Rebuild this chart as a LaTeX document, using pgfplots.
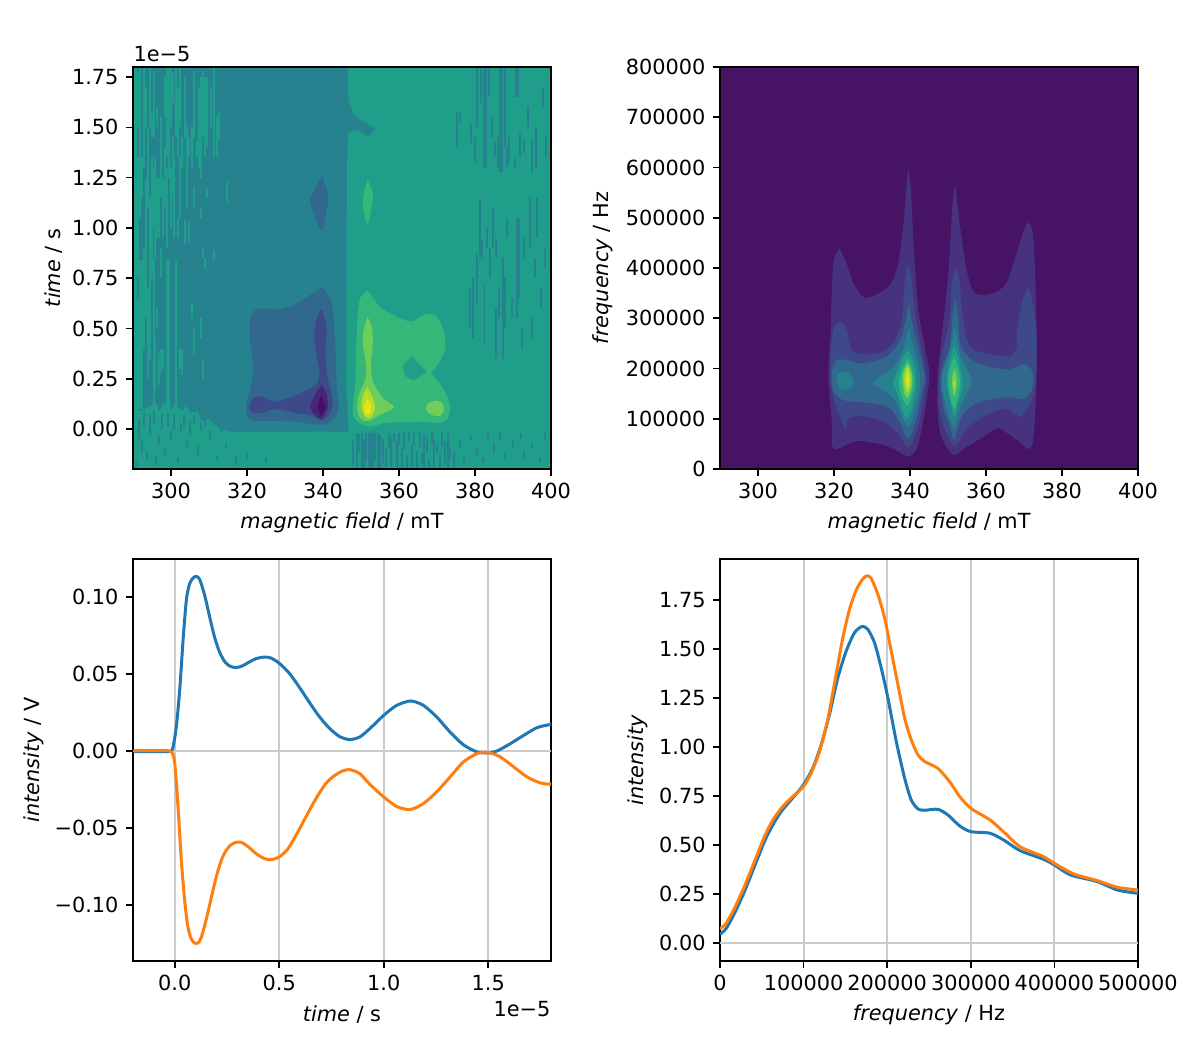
\documentclass[border=0pt]{standalone}
\usepackage{fontspec}
\setmainfont{DejaVu Sans}
\usepackage{pgfplots}
\usepackage{pgfplotstable}
\pgfplotsset{compat=1.18}

% viridis steps of the two contour plots
\definecolor{lv0}{HTML}{440F66}
\definecolor{lv1}{HTML}{482576}
\definecolor{lvA}{HTML}{471365}
\definecolor{lvB}{HTML}{46327E}
\definecolor{lv2}{HTML}{3E4989}
\definecolor{lv3}{HTML}{31688E}
\definecolor{lv4}{HTML}{26828E}
\definecolor{lv5}{HTML}{1F9E89}
\definecolor{lv6}{HTML}{35B779}
\definecolor{lv7}{HTML}{6ECE58}
\definecolor{lv8}{HTML}{B5DE2B}
\definecolor{lv9}{HTML}{E5E419}
\definecolor{mplblue}{HTML}{1F77B4}
\definecolor{mplorange}{HTML}{FF7F0E}
\definecolor{gridgray}{HTML}{CBCBCB}

\newcommand{\tenbp}{\fontsize{7.5bp}{9bp}\selectfont}

\pgfplotsset{
  base/.style={
    scale only axis, width=2.09in, height=2.01in,
    axis line style={black,line width=0.58bp},
    tick align=outside, xtick pos=bottom, ytick pos=left,
    major tick length=2.52bp,
    every tick/.style={black,line width=0.58bp},
    tick label style={font=\tenbp,inner sep=0pt},
    xticklabel style={yshift=-2.5bp},
    yticklabel style={xshift=-2.5bp},
    scaled ticks=false,
    no markers,
    every axis x label/.style={at={(axis description cs:0.5,-0.134)},anchor=center,font=\tenbp},
  },
  ylab/.style={every axis y label/.style={at={(axis description cs:#1,0.5)},rotate=90,anchor=center,font=\tenbp}},
  fieldticks/.style={
    xmin=290, xmax=400,
    xtick={300,320,340,360,380,400},
    xticklabels={300,320,340,360,380,400},
    xlabel={\textit{magnetic field} / mT},
  },
  lev/.style={fill=#1, draw=none, smooth, tension=0.5, forget plot},
  curve/.style={#1, line width=1.08bp, smooth, tension=0.42},
  zero/.style={gridgray, line width=0.72bp, forget plot},
  strip/.style={draw=none, mark=none, forget plot,
    error bars/.cd, y dir=plus, y explicit, error mark=none,
    error bar style={draw=#1, line width=0.72pt}},
}

% noisy pixels of the first plot: field, lower time, length
\pgfplotstableread{
x lo len
290.4 0.09 1.71
290.9 0.09 1.71
291.4 0.10 0.55
291.4 0.75 0.60
291.4 1.50 0.28
291.9 0.10 0.74
291.9 1.05 0.75
292.4 0.10 0.74
292.4 1.15 0.20
292.9 0.40 0.50
292.9 1.30 0.50
293.4 0.55 0.70
293.4 1.50 0.20
293.9 0.25 0.45
293.9 1.10 0.40
294.4 0.35 0.80
294.4 1.50 0.30
294.9 0.75 0.60
294.9 1.45 0.12
295.4 0.10 0.74
295.4 1.00 0.30
295.4 1.45 0.33
295.9 0.20 0.25
295.9 0.85 0.50
296.4 0.50 0.10
296.4 0.95 0.30
296.4 1.50 0.10
296.9 0.95 0.30
296.9 0.22 0.16
297.4 0.75 0.15
297.4 1.15 0.40
297.4 0.28 0.12
298.0 0.30 0.10
298.0 0.95 0.30
298.4 1.10 0.30
298.4 1.55 0.20
298.9 0.10 0.74
298.9 0.90 0.40
298.9 1.35 0.45
299.4 0.10 0.74
299.4 1.25 0.55
300.0 1.00 0.30
300.0 1.50 0.30
300.5 1.15 0.30
300.5 1.62 0.15
300.9 0.95 0.40
301.2 0.10 0.74
301.2 1.45 0.35
301.8 0.95 0.10
301.8 1.35 0.35
302.4 0.30 0.10
302.4 1.05 0.30
302.4 1.50 0.30
303.0 0.27 0.13
303.0 1.30 0.15
303.6 0.92 0.12
303.6 1.45 0.30
304.2 1.10 0.40
304.8 0.93 0.10
304.8 1.35 0.10
305.4 0.55 0.07
305.4 1.30 0.20
306.1 0.37 0.13
306.1 1.10 0.10
306.1 1.45 0.33
306.8 1.35 0.08
307.3 1.30 0.40
307.8 0.45 0.10
307.8 1.05 0.05
307.8 1.25 0.50
308.4 0.25 0.10
308.4 0.85 0.05
308.4 1.45 0.33
309.0 1.35 0.40
309.0 0.80 0.05
309.6 1.15 0.05
309.6 1.40 0.35
310.5 1.50 0.20
311.2 0.84 0.05
311.2 1.35 0.45
312.1 1.35 0.20
312.7 1.43 0.15
314.7 1.13 0.10
}\lightstrips

\pgfplotstableread{
x lo len
290.8 -0.19 0.03
291.5 -0.05 0.10
292.3 -0.12 0.06
293.0 0.01 0.07
293.8 -0.15 0.04
294.5 -0.03 0.10
295.5 0.02 0.07
296.0 -0.18 0.05
296.8 -0.08 0.05
297.6 0.00 0.08
298.4 -0.14 0.04
299.2 0.01 0.07
300.0 -0.06 0.05
300.9 0.00 0.07
301.8 -0.17 0.03
302.6 -0.02 0.05
303.3 0.01 0.06
304.1 -0.10 0.04
305.0 -0.03 0.07
306.0 0.02 0.05
307.0 -0.13 0.05
307.8 -0.01 0.04
309.0 0.01 0.04
310.3 -0.05 0.04
312.0 -0.16 0.03
313.2 -0.02 0.04
314.5 -0.10 0.03
317.0 -0.18 0.04
320.0 -0.15 0.03
325.0 -0.17 0.03
348.0 -0.18 0.12
349.0 -0.20 0.18
349.6 -0.12 0.10
350.2 -0.20 0.18
350.8 -0.20 0.15
351.4 -0.16 0.14
352.0 -0.20 0.18
352.6 -0.20 0.19
353.2 -0.20 0.18
353.8 -0.16 0.15
354.4 -0.20 0.18
355.0 -0.20 0.17
355.8 -0.17 0.12
356.6 -0.19 0.10
357.3 -0.10 0.08
358.0 -0.19 0.15
358.7 -0.07 0.05
359.4 -0.20 0.14
360.0 -0.08 0.06
360.7 -0.19 0.10
361.4 -0.10 0.09
362.0 -0.20 0.07
362.7 -0.06 0.05
363.4 -0.19 0.11
364.0 -0.08 0.06
364.7 -0.20 0.09
365.4 -0.09 0.08
366.0 -0.17 0.05
366.7 -0.20 0.17
367.4 -0.12 0.08
368.0 -0.20 0.05
368.6 -0.08 0.07
369.3 -0.19 0.14
370.0 -0.12 0.05
370.7 -0.20 0.07
371.4 -0.09 0.08
372.0 -0.18 0.12
372.8 -0.20 0.18
373.5 -0.15 0.06
374.4 -0.19 0.08
376.0 -0.10 0.04
377.0 -0.18 0.04
379.0 -0.06 0.03
380.5 -0.14 0.04
382.0 -0.17 0.03
383.5 -0.05 0.04
385.0 -0.12 0.05
386.5 -0.06 0.04
388.0 -0.15 0.03
390.0 -0.09 0.04
392.0 -0.05 0.03
393.0 -0.15 0.04
395.0 -0.10 0.03
397.0 -0.17 0.03
398.5 -0.06 0.04
375.2 1.40 0.18
376.0 1.52 0.05
379.0 1.42 0.10
380.0 1.33 0.12
380.4 1.50 0.30
381.5 1.62 0.18
382.4 1.30 0.50
383.0 1.30 0.50
383.6 1.65 0.15
384.5 1.45 0.10
385.2 1.35 0.08
386.0 1.30 0.15
386.6 1.28 0.52
387.2 1.28 0.52
387.8 1.40 0.40
388.4 1.30 0.10
389.0 1.33 0.12
390.6 1.30 0.05
390.8 1.65 0.15
391.4 1.65 0.15
391.8 1.35 0.12
393.0 1.37 0.06
394.0 1.50 0.10
395.0 1.28 0.15
396.0 1.30 0.20
397.8 1.60 0.10
398.8 1.35 0.10
378.7 0.50 0.20
379.6 0.45 0.30
380.5 0.62 0.25
381.2 0.85 0.30
381.8 0.84 0.10
382.5 0.42 0.30
383.2 0.90 0.10
384.0 0.75 0.15
384.8 0.90 0.20
385.4 0.35 0.25
385.4 0.85 0.10
386.2 0.55 0.15
387.4 0.35 0.50
388.0 0.50 0.25
388.4 0.95 0.10
389.8 0.55 0.10
391.0 0.55 0.50
391.5 0.65 0.40
392.3 0.40 0.10
393.0 0.85 0.10
394.4 0.90 0.25
395.0 0.45 0.10
395.8 0.75 0.10
396.2 0.95 0.20
397.3 0.60 0.10
398.5 0.80 0.10
}\darkstrips

\begin{document}
\begin{tikzpicture}
\path[use as bounding box] (0,0) rectangle (6in,5.25in);

% ---- time / field map
\begin{axis}[base, name=tl, at={(0.665in,2.905in)}, anchor=south west,
    fieldticks, ylab=-0.189,
    ymin=-0.199, ymax=1.80,
    ytick={0,0.25,0.5,0.75,1,1.25,1.5,1.75},
    yticklabels={0.00,0.25,0.50,0.75,1.00,1.25,1.50,1.75},
    ylabel={\textit{time} / s},
    axis background/.style={fill=lv5}, axis on top]
\addplot[fill=lv4,draw=none,forget plot] coordinates {(346.4,1.80)(346.7,1.635)(348.0,1.569)(349.8,1.536)(353.7,1.495)(352.0,1.450)(349.3,1.486)(346.7,1.478)(346.3,1.337)(346.1,0.227)(346.7,-0.013)(315.6,-0.013)(313,0.0)(311,0.03)(310,0.05)(308,0.04)(307,0.09)(305,0.08)(304,0.12)(303,0.09)(301,0.12)(300,0.10)(298,0.13)(297,0.09)(296,0.13)(294,0.11)(292,0.09)(290,0.10)(290,1.80)};
\addplot[strip=lv5] table[x=x,y=lo,y error=len] {\lightstrips};
\addplot[strip=lv4] table[x=x,y=lo,y error=len] {\darkstrips};
\addplot[lev=lv3] coordinates {(339.7,1.258)(337.9,1.196)(336.6,1.138)(337.9,1.056)(339.7,0.986)(340.8,1.072)(341.4,1.155)(340.6,1.221)(339.7,1.258)};
\addplot[lev=lv3] coordinates {(339.7,0.704)(336.6,0.666)(332.2,0.616)(327.9,0.595)(324.4,0.600)(322.2,0.592)(321.0,0.558)(320.7,0.459)(321.3,0.360)(321.7,0.293)(321.0,0.210)(319.8,0.119)(320.0,0.070)(321.3,0.041)(326.1,0.041)(333.1,0.036)(339.3,0.020)(342.8,0.045)(344.1,0.111)(343.6,0.227)(343.2,0.426)(342.3,0.625)(339.7,0.704)};
\addplot[lev=lv2] coordinates {(339.5,0.595)(338.2,0.542)(337.7,0.459)(338.4,0.360)(339.0,0.293)(338.4,0.227)(333.1,0.169)(327.4,0.136)(325.2,0.152)(323.0,0.164)(321.3,0.144)(320.7,0.103)(321.7,0.078)(324.4,0.081)(327.4,0.098)(333.1,0.078)(337.1,0.065)(339.7,0.045)(341.9,0.078)(342.5,0.144)(341.0,0.277)(340.6,0.393)(341.0,0.492)(340.1,0.575)(339.5,0.595)};
\addplot[lev=lv1] coordinates {(339.7,0.219)(337.9,0.169)(336.6,0.111)(337.9,0.070)(339.7,0.048)(341.2,0.103)(341.0,0.169)(339.7,0.219)};
\addplot[lev=lv0] coordinates {(339.6,0.166)(338.6,0.114)(339.6,0.065)(340.6,0.111)(339.6,0.166)};
\addplot[lev=lv6] coordinates {(351.7,1.241)(350.7,1.171)(350.5,1.105)(351.7,1.019)(352.8,1.105)(353.1,1.171)(351.7,1.241)};
\addplot[lev=lv6] coordinates {(351.7,0.688)(349.8,0.650)(349.1,0.558)(348.7,0.393)(348.5,0.227)(347.8,0.094)(348.5,0.045)(352.0,0.012)(356.8,0.031)(365.6,0.036)(370.8,0.031)(373.0,0.061)(373.3,0.128)(371.3,0.210)(368.6,0.277)(369.5,0.302)(372.1,0.393)(371.7,0.492)(369.5,0.567)(366.4,0.567)(363.4,0.534)(359.4,0.558)(355.0,0.608)(353.3,0.650)(351.7,0.688)};
\addplot[lev=lv5] coordinates {(363.4,0.360)(361.2,0.318)(361.6,0.268)(363.8,0.244)(366.0,0.268)(367.3,0.285)(366.0,0.310)(364.7,0.335)(363.4,0.360)};
\addplot[lev=lv7] coordinates {(351.7,0.558)(350.7,0.492)(350.5,0.426)(351.4,0.310)(351.1,0.244)(349.3,0.161)(349.1,0.086)(350.2,0.048)(352.0,0.040)(355.0,0.070)(358.7,0.108)(355.9,0.152)(353.3,0.227)(352.6,0.310)(353.1,0.426)(352.8,0.509)(351.7,0.558)};
\addplot[lev=lv7] coordinates {(369.5,0.141)(367.7,0.128)(367.1,0.098)(368.6,0.070)(370.8,0.066)(371.9,0.098)(371.3,0.131)(369.5,0.141)};
\addplot[lev=lv8] coordinates {(351.5,0.207)(350.5,0.161)(350.2,0.103)(351.1,0.061)(352.4,0.053)(353.7,0.103)(352.8,0.169)(351.5,0.207)};
\addplot[lev=lv9] coordinates {(351.7,0.152)(350.8,0.111)(351.3,0.070)(352.4,0.078)(352.7,0.119)(351.7,0.152)};
\end{axis}
\node[anchor=south west,font=\tenbp,inner sep=0pt] at ([yshift=1.8bp]tl.north west) {1e−5};

% ---- frequency / field map
\begin{axis}[base, at={(3.6in,2.905in)}, anchor=south west,
    fieldticks, ylab=-0.28,
    ymin=0, ymax=800000,
    ytick={0,100000,200000,300000,400000,500000,600000,700000,800000},
    yticklabels={0,100000,200000,300000,400000,500000,600000,700000,800000},
    ylabel={\textit{frequency} / Hz},
    axis background/.style={fill=lvA}, axis on top]
\addplot[lev=lvB] coordinates {(321.4,439000)(320.0,416000)(319.4,350000)(319.1,270000)(318.5,184000)(319.4,98000)(319.8,41000)(324.2,51000)(326.8,56000)(333.0,48000)(336.9,35000)(339.6,25000)(341.8,41000)(343.5,98000)(345.1,184000)(343.9,243000)(342.2,316000)(340.9,449000)(340.3,549000)(339.6,595000)(338.9,549000)(338.2,482000)(336.9,409000)(334.7,366000)(330.8,346000)(327.7,342000)(325.1,370000)(323.3,409000)(321.4,439000)};
\addplot[lev=lvB] coordinates {(351.9,568000)(351.2,529000)(350.5,436000)(349.6,350000)(347.5,204000)(347.2,117000)(348.3,64000)(351.4,28000)(354.9,44000)(359.3,64000)(363.2,81000)(368.1,58000)(372.0,44000)(373.2,151000)(373.3,283000)(372.5,456000)(371.1,490000)(369.4,462000)(367.2,409000)(365.4,370000)(362.8,353000)(359.3,346000)(356.7,353000)(354.9,396000)(353.2,482000)(351.9,568000)};
\addplot[lev=lv2] coordinates {(321.6,295000)(319.8,277000)(319.1,224000)(319.0,177000)(320.3,131000)(322.9,81000)(323.8,101000)(327.7,105000)(333.0,94000)(336.9,71000)(339.6,43000)(341.6,71000)(343.1,117000)(344.2,177000)(343.1,237000)(341.6,297000)(340.4,376000)(339.6,404000)(338.7,376000)(337.8,297000)(336.1,257000)(333.0,234000)(327.7,228000)(324.6,237000)(323.3,277000)(321.6,295000)};
\addplot[lev=lv2] coordinates {(351.9,399000)(351.0,370000)(350.4,297000)(348.3,224000)(347.5,164000)(348.3,98000)(351.6,46000)(354.9,78000)(359.3,104000)(365.4,121000)(369.0,104000)(372.0,137000)(373.2,184000)(373.2,283000)(372.0,343000)(371.0,360000)(369.4,330000)(368.1,270000)(368.1,243000)(366.3,224000)(360.2,230000)(355.8,243000)(354.0,297000)(353.0,376000)(351.9,399000)};
\addplot[lev=lv3] coordinates {(339.6,333000)(338.9,297000)(337.4,257000)(333.9,224000)(327.7,210000)(322.5,218000)(320.3,214000)(319.4,190000)(319.8,157000)(322.5,137000)(329.5,131000)(334.7,121000)(337.4,91000)(339.6,59000)(341.8,104000)(343.1,151000)(343.9,184000)(342.2,243000)(340.4,297000)(339.6,333000)};
\addplot[lev=lv3] coordinates {(351.9,343000)(351.2,303000)(350.5,243000)(349.2,217000)(348.1,177000)(348.8,124000)(350.5,84000)(351.6,59000)(353.6,104000)(357.5,131000)(365.4,143000)(369.8,139000)(372.0,157000)(372.3,190000)(370.3,209000)(365.4,198000)(358.4,209000)(354.9,227000)(353.2,250000)(352.7,297000)(351.9,343000)};
\addplot[lev=lv4] coordinates {(320.7,190000)(321.0,170000)(322.0,157000)(324.6,164000)(325.3,177000)(323.3,194000)(320.7,190000)};
\addplot[lev=lv4] coordinates {(339.6,280000)(338.4,243000)(336.5,210000)(333.4,190000)(330.4,172000)(333.4,154000)(336.1,137000)(337.4,111000)(339.6,84000)(341.3,117000)(342.5,157000)(342.6,190000)(341.6,224000)(340.4,257000)(339.6,280000)};
\addplot[lev=lv4] coordinates {(351.8,287000)(351.0,253000)(349.8,220000)(348.6,194000)(348.3,171000)(349.2,134000)(350.5,101000)(351.7,84000)(353.2,121000)(354.9,151000)(356.2,174000)(354.9,200000)(353.2,227000)(352.5,257000)(351.8,287000)};
\addplot[lev=lv5] coordinates {(339.4,237000)(337.6,214000)(336.1,184000)(335.6,171000)(336.9,144000)(338.2,111000)(339.4,101000)(340.9,131000)(341.7,171000)(341.3,207000)(340.0,230000)(339.4,237000)};
\addplot[lev=lv5] coordinates {(351.7,247000)(350.5,220000)(349.8,190000)(349.6,171000)(350.5,137000)(351.7,104000)(352.7,131000)(353.9,164000)(353.6,190000)(352.7,224000)(351.7,247000)};
\addplot[lev=lv6] coordinates {(339.4,220000)(337.8,197000)(337.1,171000)(337.8,144000)(339.4,127000)(340.6,151000)(341.1,177000)(340.4,204000)(339.4,220000)};
\addplot[lev=lv6] coordinates {(351.7,224000)(350.5,200000)(350.1,174000)(350.5,144000)(351.7,121000)(352.7,144000)(353.2,174000)(352.7,200000)(351.7,224000)};
\addplot[lev=lv7] coordinates {(339.4,210000)(338.2,194000)(338.0,174000)(338.5,151000)(339.4,141000)(340.4,161000)(340.6,180000)(340.1,200000)(339.4,210000)};
\addplot[lev=lv7] coordinates {(351.7,200000)(351.1,184000)(351.0,171000)(351.6,145000)(352.3,164000)(352.3,184000)(351.7,200000)};
\addplot[lev=lv8] coordinates {(339.4,205000)(338.7,190000)(338.5,174000)(339.4,151000)(340.1,171000)(340.1,187000)(339.4,205000)};
\addplot[lev=lv8] coordinates {(351.7,177000)(351.3,171000)(351.7,161000)(352.0,169000)(351.7,177000)};
\addplot[lev=lv9] coordinates {(339.4,190000)(339.0,177000)(339.4,164000)(339.8,177000)(339.4,190000)};
\end{axis}

% ---- time traces
\begin{axis}[base, name=bl, at={(0.665in,0.445in)}, anchor=south west,
    ylab=-0.237,
    xmin=-0.2, xmax=1.8, ymin=-0.1364, ymax=0.1247,
    xtick={0,0.5,1,1.5}, xticklabels={0.0,0.5,1.0,1.5},
    ytick={-0.1,-0.05,0,0.05,0.1},
    yticklabels={−0.10,−0.05,0.00,0.05,0.10},
    xmajorgrids, grid style={gridgray,line width=0.72bp},
    xlabel={\textit{time} / s}, ylabel={\textit{intensity} / V}]
\addplot[zero] coordinates {(-0.2,0)(1.8,0)};
\addplot[curve=mplblue] coordinates {(-0.198,-0.0004)(-0.056,-0.0004)(-0.021,-0.0002)(-0.008,0.0026)(0.008,0.0167)(0.024,0.0405)(0.040,0.0729)(0.056,0.0989)(0.071,0.1087)(0.087,0.1123)(0.103,0.1134)(0.119,0.1115)(0.143,0.1011)(0.167,0.0870)(0.190,0.0741)(0.214,0.0643)(0.238,0.0582)(0.262,0.0552)(0.294,0.0541)(0.325,0.0554)(0.357,0.0578)(0.389,0.0600)(0.429,0.0610)(0.460,0.0604)(0.500,0.0570)(0.548,0.0505)(0.595,0.0416)(0.643,0.0318)(0.690,0.0226)(0.738,0.0150)(0.788,0.0094)(0.837,0.0074)(0.885,0.0091)(0.933,0.0145)(1.0,0.0232)(1.061,0.0296)(1.128,0.0325)(1.189,0.0297)(1.253,0.0221)(1.317,0.0123)(1.381,0.0040)(1.446,-0.0006)(1.5,-0.0013)(1.542,0)(1.606,0.0048)(1.670,0.0102)(1.734,0.0152)(1.8,0.0173)};
\addplot[curve=mplorange] coordinates {(-0.198,0.0002)(-0.056,0.0002)(-0.016,-0.0006)(0,-0.0082)(0.016,-0.0376)(0.032,-0.0723)(0.048,-0.0983)(0.063,-0.1145)(0.079,-0.1221)(0.095,-0.1247)(0.111,-0.1247)(0.127,-0.1210)(0.151,-0.1091)(0.175,-0.0950)(0.198,-0.0820)(0.222,-0.0711)(0.246,-0.0645)(0.270,-0.0608)(0.294,-0.0593)(0.317,-0.0593)(0.349,-0.0619)(0.389,-0.0667)(0.429,-0.0699)(0.460,-0.0706)(0.500,-0.0688)(0.540,-0.0638)(0.579,-0.0550)(0.627,-0.0429)(0.675,-0.0310)(0.722,-0.0212)(0.762,-0.0162)(0.802,-0.0130)(0.837,-0.0121)(0.885,-0.0147)(0.933,-0.0216)(1.0,-0.0299)(1.061,-0.0360)(1.125,-0.0381)(1.189,-0.0342)(1.253,-0.0266)(1.317,-0.0169)(1.381,-0.0071)(1.446,-0.0017)(1.5,-0.0009)(1.558,-0.0039)(1.622,-0.0104)(1.686,-0.0169)(1.75,-0.0208)(1.8,-0.0216)};
\end{axis}
\node[anchor=north east,font=\tenbp,inner sep=0pt] at ([yshift=-14.4bp]bl.south east) {1e−5};

% ---- spectra
\begin{axis}[base, at={(3.6in,0.445in)}, anchor=south west,
    ylab=-0.196,
    xmin=0, xmax=500000, ymin=-0.092, ymax=1.959,
    xtick={0,100000,200000,300000,400000,500000},
    xticklabels={0,100000,200000,300000,400000,500000},
    ytick={0,0.25,0.5,0.75,1,1.25,1.5,1.75},
    yticklabels={0.00,0.25,0.50,0.75,1.00,1.25,1.50,1.75},
    xmajorgrids, grid style={gridgray,line width=0.72bp},
    xlabel={\textit{frequency} / Hz}, ylabel={\textit{intensity}}]
\addplot[zero] coordinates {(0,0)(500000,0)};
\addplot[curve=mplblue] coordinates {(0,0.044)(7200,0.073)(17200,0.150)(29100,0.261)(41100,0.389)(53100,0.517)(63100,0.602)(73100,0.670)(85000,0.730)(99800,0.807)(111000,0.892)(121000,1.011)(130900,1.165)(140900,1.352)(150900,1.489)(160900,1.583)(170000,1.615)(176800,1.600)(184800,1.532)(192800,1.404)(200800,1.251)(210800,1.029)(220800,0.841)(228700,0.730)(236700,0.684)(244700,0.677)(260600,0.682)(272700,0.653)(286700,0.597)(300000,0.568)(322900,0.560)(339000,0.526)(359000,0.471)(387100,0.427)(400000,0.398)(419300,0.347)(451400,0.313)(475500,0.270)(500000,0.253)};
\addplot[curve=mplorange] coordinates {(0,0.073)(7200,0.099)(17200,0.176)(29100,0.287)(41100,0.414)(53100,0.542)(63100,0.627)(75000,0.696)(87000,0.747)(99800,0.798)(109000,0.866)(119000,0.977)(128900,1.140)(138900,1.370)(146900,1.557)(154900,1.702)(162900,1.800)(170900,1.858)(175600,1.873)(180800,1.861)(188800,1.779)(196800,1.660)(204800,1.489)(212800,1.318)(220800,1.148)(228700,1.037)(236700,0.960)(244700,0.926)(260600,0.891)(274700,0.823)(286700,0.747)(300000,0.687)(322900,0.628)(339000,0.568)(359000,0.491)(387100,0.440)(400000,0.406)(423300,0.352)(451400,0.318)(475500,0.284)(500000,0.270)};
\end{axis}
\end{tikzpicture}
\end{document}
